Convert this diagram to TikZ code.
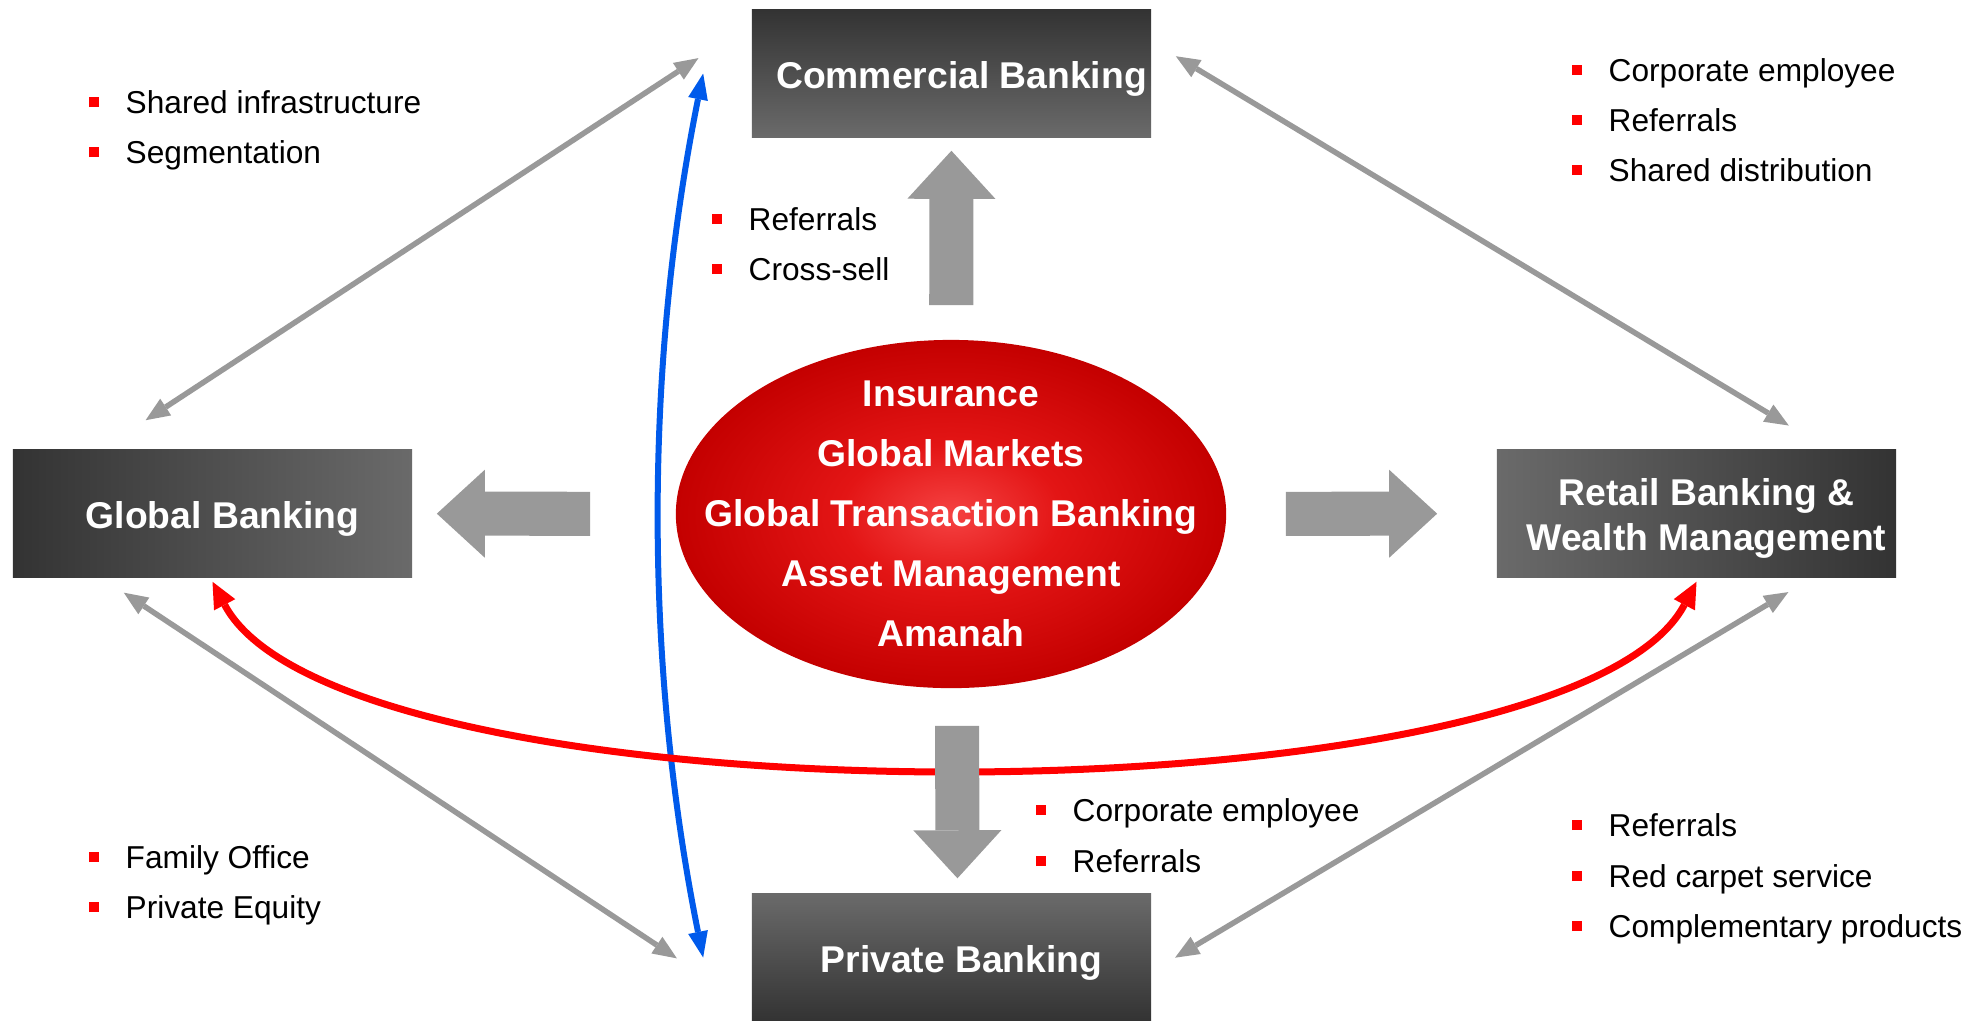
\documentclass[tikz,border=0pt]{standalone}
\usepackage{fontspec}
\setmainfont{Liberation Sans}
\usetikzlibrary{arrows.meta}
\usetikzlibrary{shapes}

\definecolor{boxdark}{HTML}{333333}
\definecolor{boxlight}{HTML}{6A6A6A}
\definecolor{linkgray}{HTML}{999999}
\definecolor{linkblue}{HTML}{005AEB}
\definecolor{linkred}{HTML}{FF0000}
\definecolor{coreinner}{HTML}{F54242}
\definecolor{corebright}{HTML}{E31515}
\definecolor{coremid}{HTML}{C40000}
\definecolor{coredeep}{HTML}{A60000}
\definecolor{coreouter}{HTML}{8A0000}

\pgfdeclareradialshading{coreglow}{\pgfpoint{0bp}{0bp}}{%
  color(0bp)=(coreinner); color(10bp)=(corebright); color(25bp)=(coremid);
  color(40bp)=(coredeep); color(50bp)=(coreouter)}

\newcommand{\Bullet}{\makebox[0.37cm][l]{\textcolor{linkred}{\rule[0.06cm]{0.1cm}{0.1cm}}}}

\begin{document}
\begin{tikzpicture}[x = 0.01cm, y = -0.01cm]
\tikzstyle{UnitStyle}=[rectangle,
                       minimum width = 3.99cm,
                       minimum height = 1.27cm,
                       inner sep = 0pt]
\tikzstyle{UnitText}=[inner sep = 0pt, xshift = 0.1cm, yshift = -0.05cm,
                      text = white, align = center,
                      font = \bfseries\fontsize{10.6}{12.8}\selectfont]
\tikzstyle{CoreStyle}=[ellipse, minimum width = 5.5cm, minimum height = 3.48cm,
                       inner sep = 0pt, shading = coreglow]
\tikzstyle{CoreText}=[inner sep = 0pt, text = white, align = center,
                      font = \bfseries\fontsize{10.6}{17.1}\selectfont]
\tikzstyle{PointStyle}=[anchor = base west, inner sep = 0pt,
                        font = \fontsize{9}{14.4}\selectfont]
\tikzstyle{FlowArrow}=[draw = linkgray, line width = 0.44cm,
                       -{Triangle[length = 0.48cm, width = 0.88cm, line width = 0pt]}]
\tikzstyle{LinkStyle}=[draw = linkgray, line width = 0.055cm,
                       {Triangle[length = 0.24cm, width = 0.2cm, line width = 0pt]}-{Triangle[length = 0.24cm, width = 0.2cm, line width = 0pt]}]
\tikzstyle{BlueLink}=[draw = linkblue, line width = 0.06cm,
                      {Triangle[length = 0.26cm, width = 0.2cm, line width = 0pt]}-{Triangle[length = 0.26cm, width = 0.2cm, line width = 0pt]}]
\tikzstyle{RedLink}=[draw = linkred, line width = 0.07cm,
                     {Triangle[length = 0.26cm, width = 0.24cm, line width = 0pt]}-{Triangle[length = 0.26cm, width = 0.24cm, line width = 0pt]}]

\useasboundingbox (0,0) rectangle (1988,1020);

\node[UnitStyle, top color = boxdark, bottom color = boxlight,
      label = {[UnitText]center:Commercial Banking}] (commercial) at (951.5,73.5) {};
\node[UnitStyle, left color = boxdark, right color = boxlight,
      label = {[UnitText]center:Global Banking}] (global) at (212.5,513.5) {};
\node[UnitStyle, left color = boxlight, right color = boxdark,
      label = {[UnitText]center:Retail Banking \&\\Wealth Management}] (retail) at (1696.5,513.5) {};
\node[UnitStyle, top color = boxlight, bottom color = boxdark,
      label = {[UnitText]center:Private Banking}] (private) at (951.5,957.5) {};

\node[CoreStyle] (core) at (951,514) {};
\node[CoreText] (coreLines) at (core.center) {Insurance\\Global Markets\\Global Transaction Banking\\Asset Management\\Amanah};

\draw[FlowArrow, shorten <= 0.34cm, shorten >= 0.13cm] (core) -- (commercial);
\draw[FlowArrow, shorten <= 0.85cm, shorten >= 0.24cm] (core) -- (global);
\draw[FlowArrow, shorten <= 0.59cm, shorten >= 0.59cm] (core) -- (retail);

\draw[LinkStyle, shorten <= 0.53cm, shorten >= 0.63cm] (global.150) -- (commercial.166);
\draw[LinkStyle, shorten <= 0.28cm, shorten >= 0.46cm] (commercial.9) -- (retail.26);
\draw[LinkStyle, shorten <= 0.27cm, shorten >= 0.89cm] (global.210) -- (private.194);
\draw[LinkStyle, shorten <= 0.28cm, shorten >= 0.27cm] (retail.331) -- (private.356);

\draw[BlueLink] ([xshift = -0.48cm]commercial.west) .. controls +(-59,293) and +(-59,-293) .. ([xshift = -0.48cm]private.west);
\draw[RedLink] ([yshift = -0.04cm]global.south) .. controls +(130,246) and +(-130,246) .. ([yshift = -0.04cm]retail.south);
\draw[FlowArrow, shorten <= 0.37cm, shorten >= 0.15cm] ([xshift = 0.06cm]core.south) -- ([xshift = 0.06cm]private.north);

\node[PointStyle] (sharedInfra) at (88,113) {\Bullet Shared infrastructure};
\node[PointStyle] (segmentation) at (88,163) {\Bullet Segmentation};
\node[PointStyle] (cbReferrals) at (711,230) {\Bullet Referrals};
\node[PointStyle] (crossSell) at (711,280) {\Bullet Cross-sell};
\node[PointStyle] (rbEmployee) at (1571,81) {\Bullet Corporate employee};
\node[PointStyle] (rbReferrals) at (1571,131) {\Bullet Referrals};
\node[PointStyle] (sharedDist) at (1571,181) {\Bullet Shared distribution};
\node[PointStyle] (familyOffice) at (88,868) {\Bullet Family Office};
\node[PointStyle] (privateEquity) at (88,918) {\Bullet Private Equity};
\node[PointStyle] (pbEmployee) at (1035,821) {\Bullet Corporate employee};
\node[PointStyle] (pbReferrals) at (1035,872) {\Bullet Referrals};
\node[PointStyle] (rwReferrals) at (1571,836) {\Bullet Referrals};
\node[PointStyle] (redCarpet) at (1571,887) {\Bullet Red carpet service};
\node[PointStyle] (complementary) at (1571,937) {\Bullet Complementary products};
\end{tikzpicture}
\end{document}
